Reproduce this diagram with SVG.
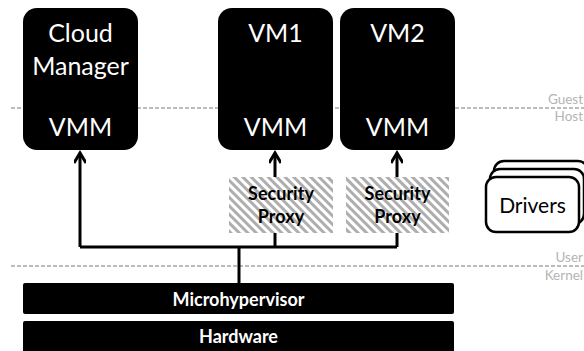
<svg xmlns="http://www.w3.org/2000/svg" width="584" height="351" viewBox="0 0 584 351">
<style>
.box{fill:#000}
.big{font-family:Lato,"Liberation Sans",sans-serif;font-size:25px;fill:#fff;text-anchor:middle}
.bold{font-family:Lato,"Liberation Sans",sans-serif;font-size:18px;font-weight:bold;text-anchor:middle}
.side{font-family:Lato,"Liberation Sans",sans-serif;font-size:13.5px;fill:#b4b4b4;text-anchor:end}
.dash{stroke:#a6a6a6;stroke-width:1.5;stroke-dasharray:4 2;fill:none}
.conn{stroke:#000;stroke-width:3;fill:none}
.drv{fill:#fff;stroke:#000;stroke-width:2.5}
</style>
<defs>
<pattern id="hatch" width="6" height="6" patternUnits="userSpaceOnUse" patternTransform="rotate(45)">
<rect width="6" height="6" fill="#fff"/>
<rect width="6" height="3" fill="#aeaeae"/>
</pattern>
<marker id="arr" markerWidth="16" markerHeight="12" refX="13" refY="6" orient="auto" markerUnits="userSpaceOnUse">
<path d="M3,0 L13,6 L3,12" fill="none" stroke="#000" stroke-width="3"/>
</marker>
</defs>

<g id="guides">
<line class="dash" x1="11" y1="108" x2="584" y2="108"/>
<line class="dash" x1="11" y1="266" x2="584" y2="266"/>
<text class="side" x="583" y="104">Guest</text>
<text class="side" x="583" y="121">Host</text>
<text class="side" x="583" y="262">User</text>
<text class="side" x="583" y="280">Kernel</text>
</g>

<g id="connectors">
<path class="conn" d="M80,247 L80,153" marker-end="url(#arr)"/>
<path class="conn" d="M275,247 L275,153" marker-end="url(#arr)"/>
<path class="conn" d="M397,247 L397,153" marker-end="url(#arr)"/>
<path class="conn" d="M80,247 L397,247"/>
<path class="conn" d="M239,247 L239,284"/>
</g>

<g id="cloud-manager">
<rect class="box" x="23" y="8" width="115" height="142" rx="14"/>
<text class="big" x="80.5" y="42">Cloud</text>
<text class="big" x="80.5" y="75">Manager</text>
<text class="big" x="80.5" y="136">VMM</text>
</g>

<g id="vm1">
<rect class="box" x="218" y="8" width="115" height="142" rx="14"/>
<text class="big" x="275.5" y="42">VM1</text>
<text class="big" x="275.5" y="136">VMM</text>
</g>

<g id="vm2">
<rect class="box" x="340" y="8" width="115" height="142" rx="14"/>
<text class="big" x="397.5" y="42">VM2</text>
<text class="big" x="397.5" y="136">VMM</text>
</g>

<g id="proxy1">
<rect x="229" y="177" width="104" height="56" fill="url(#hatch)"/>
<text class="bold" x="281" y="200">Security</text>
<text class="bold" x="281" y="223">Proxy</text>
</g>

<g id="proxy2">
<rect x="346" y="177" width="103" height="56" fill="url(#hatch)"/>
<text class="bold" x="397.5" y="200">Security</text>
<text class="bold" x="397.5" y="223">Proxy</text>
</g>

<g id="drivers">
<rect class="drv" x="494" y="161" width="94" height="55" rx="10"/>
<rect class="drv" x="490" y="169" width="94" height="55" rx="10"/>
<rect class="drv" x="486" y="177" width="93" height="55" rx="10"/>
<text class="big" x="532.5" y="213" style="fill:#000;font-size:21px">Drivers</text>
</g>

<g id="microhypervisor">
<rect class="box" x="23" y="283" width="431" height="31" rx="2"/>
<text class="bold" x="238.5" y="306" style="fill:#fff">Microhypervisor</text>
</g>

<g id="hardware">
<rect class="box" x="23" y="321" width="431" height="32" rx="2"/>
<text class="bold" x="238.5" y="343" style="fill:#fff">Hardware</text>
</g>
</svg>
